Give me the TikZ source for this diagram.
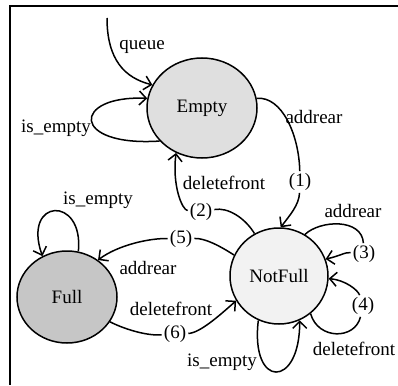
\documentclass[tikz,border=0pt]{standalone}
\usepackage{fontspec}
\setmainfont{Liberation Serif}
\usetikzlibrary{shapes.geometric,arrows.meta}

\begin{document}
\begin{tikzpicture}[x=1pt,y=-1pt,line width=1.5pt,
  state/.style={draw,ellipse,inner sep=0pt,font=\fontsize{19}{21}\selectfont},
  lbl/.style={inner sep=1pt,font=\fontsize{19}{21}\selectfont},
  num/.style={lbl,fill=white,inner sep=1.5pt},
  arr/.style={-{Straight Barb[length=7pt,width=14pt]}}]
  \useasboundingbox (0,0) rectangle (398,385);
  \draw[line width=2pt] (398,6.5) -- (9.5,6.5) -- (9.5,385);

  \node[state,fill=gray!25,minimum width=110,minimum height=100] (empty) at (202,108) {Empty};
  \node[state,fill=gray!10,minimum width=98,minimum height=96] (notfull) at (279,276) {NotFull};
  \node[state,fill=gray!45,minimum width=100,minimum height=92] (full) at (67,297) {Full};

  \node[num] (n1) at (300,182) {(1)};
  \node[num] (n2) at (201,212) {(2)};
  \node[num] (n3) at (364,254) {(3)};
  \node[num] (n4) at (363,306) {(4)};
  \node[num] (n5) at (181,239) {(5)};
  \node[num] (n6) at (175,334) {(6)};

  \node[lbl] (lqueue) at (142,47) {queue};
  \node[lbl] (lempty) at (56,128) {is\_empty};
  \node[lbl] (ladd1) at (314,117) {addrear};
  \node[lbl] (ldel2) at (224,183) {deletefront};
  \node[lbl] (lfull) at (98,200) {is\_empty};
  \node[lbl] (ladd3) at (353,211) {addrear};
  \node[lbl] (ladd5) at (148,268) {addrear};
  \node[lbl] (ldel6) at (171,309) {deletefront};
  \node[lbl] (ldel4) at (354,349) {deletefront};
  \node[lbl] (lnot) at (222,362) {is\_empty};

  \coordinate (qs) at (107,18);
  \draw[arr] (qs) .. controls (107,60) and (125,78) .. (empty.155);
  \draw[arr] (empty.218) .. controls (70,147) and (72,95) .. (empty.170);

  \draw (empty.10) .. controls (282,96) and (299,135) .. (n1);
  \draw[arr] (n1) .. controls (299,205) and (290,215) .. (notfull.88);

  \draw (notfull.120) .. controls (245,218) and (228,207) .. (n2);
  \draw[arr] (n2) .. controls (182,210) and (172,185) .. (empty.240);

  \draw (notfull.155) .. controls (220,246) and (205,238) .. (n5);
  \draw[arr] (n5) .. controls (150,238) and (118,245) .. (full.50);

  \draw (full.330) .. controls (122,328) and (145,336) .. (n6);
  \draw[arr] (n6) .. controls (200,333) and (220,315) .. (notfull.210);

  \draw[arr] (full.76) .. controls (84,195) and (22,198) .. (full.121);

  \draw (notfull.58) .. controls (320,220) and (362,218) .. (n3);
  \draw[arr] (n3) .. controls (345,252) and (340,256) .. (notfull.20);

  \draw (notfull.310) .. controls (318,340) and (355,340) .. (n4);
  \draw[arr] (n4) .. controls (358,290) and (345,280) .. (notfull.357);

  \draw[arr] (notfull.245) .. controls (250,389) and (300,389) .. (notfull.295);
\end{tikzpicture}
\end{document}
